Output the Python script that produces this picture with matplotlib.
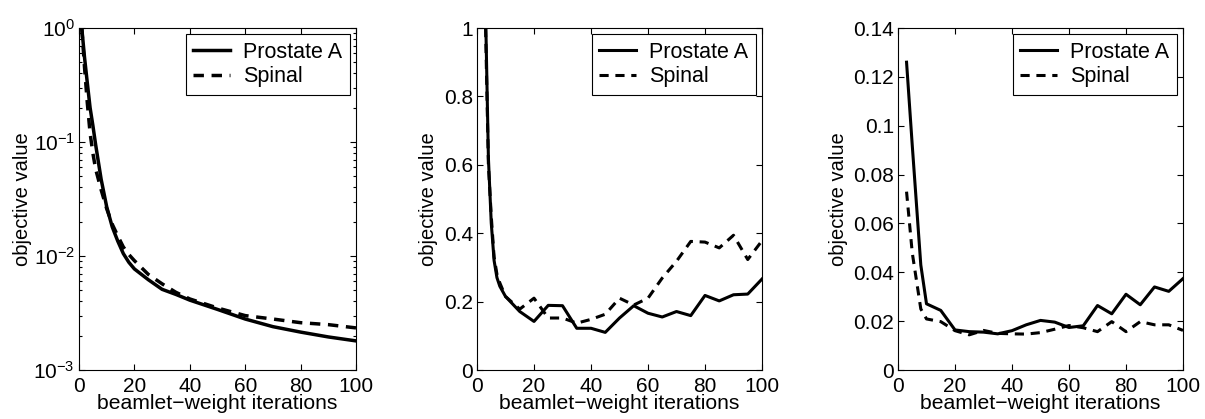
import matplotlib
matplotlib.use('Agg')
import matplotlib.pyplot as plt
from matplotlib.ticker import LogLocator, NullFormatter

plt.rcParams['font.family'] = ['Liberation Sans', 'DejaVu Sans']
plt.rcParams['mathtext.fontset'] = 'custom'
plt.rcParams['mathtext.rm'] = 'Liberation Sans'
plt.rcParams['mathtext.it'] = 'Liberation Sans:italic'
plt.rcParams['mathtext.default'] = 'regular'

# panel 1 (log scale)
x1 = [1, 2, 3, 4, 5, 6, 8, 10, 12, 14, 16, 18, 20, 25, 30, 35, 40, 50, 60, 70, 80, 90, 100]
prostate1 = [1.0, 0.55, 0.33, 0.2, 0.14, 0.095, 0.047, 0.027, 0.018, 0.0135, 0.0105, 0.0088,
             0.0077, 0.0062, 0.0051, 0.0046, 0.0041, 0.0034, 0.0028, 0.0024, 0.00215, 0.00195, 0.0018]
spinal1 = [1.0, 0.45, 0.22, 0.12, 0.08, 0.058, 0.038, 0.026, 0.019, 0.015, 0.012, 0.0103,
           0.0091, 0.0069, 0.0057, 0.0048, 0.0042, 0.0035, 0.0030, 0.0028, 0.0026, 0.0025, 0.00234]

# panel 2
x2 = [3, 4, 5, 6, 7, 8, 10, 15, 20, 25, 30, 35, 40, 45, 50, 55, 60, 65, 70, 75, 80, 85, 90, 95, 100]
prostate2 = [1.05, 0.62, 0.43, 0.32, 0.27, 0.245, 0.215, 0.171, 0.142, 0.189, 0.188, 0.122, 0.122,
             0.11, 0.152, 0.188, 0.166, 0.155, 0.171, 0.159, 0.218, 0.202, 0.22, 0.222, 0.266]
spinal2 = [1.0, 0.6, 0.45, 0.33, 0.28, 0.255, 0.215, 0.178, 0.21, 0.152, 0.152, 0.137, 0.148,
           0.163, 0.21, 0.19, 0.21, 0.269, 0.318, 0.376, 0.374, 0.357, 0.394, 0.323, 0.378]

# panel 3
x3 = [3, 5, 8, 10, 15, 20, 25, 30, 35, 40, 45, 50, 55, 60, 65, 70, 75, 80, 85, 90, 95, 100]
prostate3 = [0.126, 0.092, 0.043, 0.0271, 0.0244, 0.0164, 0.0157, 0.0155, 0.0148, 0.0161, 0.0185,
             0.0203, 0.0196, 0.0174, 0.0181, 0.0264, 0.023, 0.031, 0.0267, 0.034, 0.0322, 0.0374]
spinal3 = [0.073, 0.048, 0.025, 0.0209, 0.0198, 0.0161, 0.0144, 0.0162, 0.015, 0.0148, 0.0147,
           0.0153, 0.0167, 0.0182, 0.0173, 0.0157, 0.0198, 0.0157, 0.0198, 0.0185, 0.0185, 0.0162]

labels = ['Prostate A', 'Spinal']
fs = 15
W, H = 1205, 419

fig = plt.figure(figsize=(W / 100, H / 100), dpi=100)

def make_axes(left, right, top=28, bottom=370):
    return fig.add_axes([left / W, (H - bottom) / H, (right - left) / W, (bottom - top) / H])

ax1 = make_axes(79, 356)
ax2 = make_axes(477, 762)
ax3 = make_axes(898, 1183)

dash = (0, (3, 2.2))
ax1.plot(x1, prostate1, 'k-', lw=2.5, label=labels[0])
ax1.plot(x1, spinal1, 'k', ls=dash, lw=2.5, label=labels[1])
ax1.set_yscale('log')
ax1.set_ylim(1e-3, 1)
ax1.yaxis.set_major_locator(LogLocator(base=10, numticks=10))
ax1.yaxis.set_minor_locator(LogLocator(base=10, subs=range(2, 10), numticks=10))
ax1.yaxis.set_minor_formatter(NullFormatter())

ax2.plot(x2, prostate2, 'k-', lw=2.2, label=labels[0])
ax2.plot(x2, spinal2, 'k', ls=dash, lw=2.2, label=labels[1])
ax2.set_ylim(0, 1)
ax2.set_yticks([0, 0.2, 0.4, 0.6, 0.8, 1])
ax2.set_yticklabels(['0', '0.2', '0.4', '0.6', '0.8', '1'])

ax3.plot(x3, prostate3, 'k-', lw=2.2, label=labels[0])
ax3.plot(x3, spinal3, 'k', ls=dash, lw=2.2, label=labels[1])
ax3.set_ylim(0, 0.14)
ax3.set_yticks([0, 0.02, 0.04, 0.06, 0.08, 0.1, 0.12, 0.14])
ax3.set_yticklabels(['0', '0.02', '0.04', '0.06', '0.08', '0.1', '0.12', '0.14'])

ylab_x = [-0.17, -0.137, -0.175]
for ax, yx in zip([ax1, ax2, ax3], ylab_x):
    ax.set_xlim(0, 100)
    ax.set_xticks([0, 20, 40, 60, 80, 100])
    ax.tick_params(which='both', direction='in', top=True, right=True, labelsize=fs, width=0.8)
    ax.tick_params(which='major', length=4)
    ax.tick_params(which='minor', length=2)
    ax.tick_params(axis='x', pad=5)
    ax.tick_params(axis='y', pad=3)
    for s in ax.spines.values():
        s.set_linewidth(0.8)
    ax.set_xlabel('beamlet\u2212weight iterations', fontsize=15.2)
    ax.set_ylabel('objective value', fontsize=14.5)
    ax.xaxis.set_label_coords(0.5, -0.07)
    ax.yaxis.set_label_coords(yx, 0.5)
    leg = ax.legend(loc='upper right', fontsize=15.5, fancybox=False, framealpha=1,
                    edgecolor='black', borderaxespad=0.3, handlelength=1.7,
                    handletextpad=0.6, labelspacing=0.15, borderpad=0.35)
    leg.get_frame().set_linewidth(0.8)

fig.savefig('out.png', dpi=100)
